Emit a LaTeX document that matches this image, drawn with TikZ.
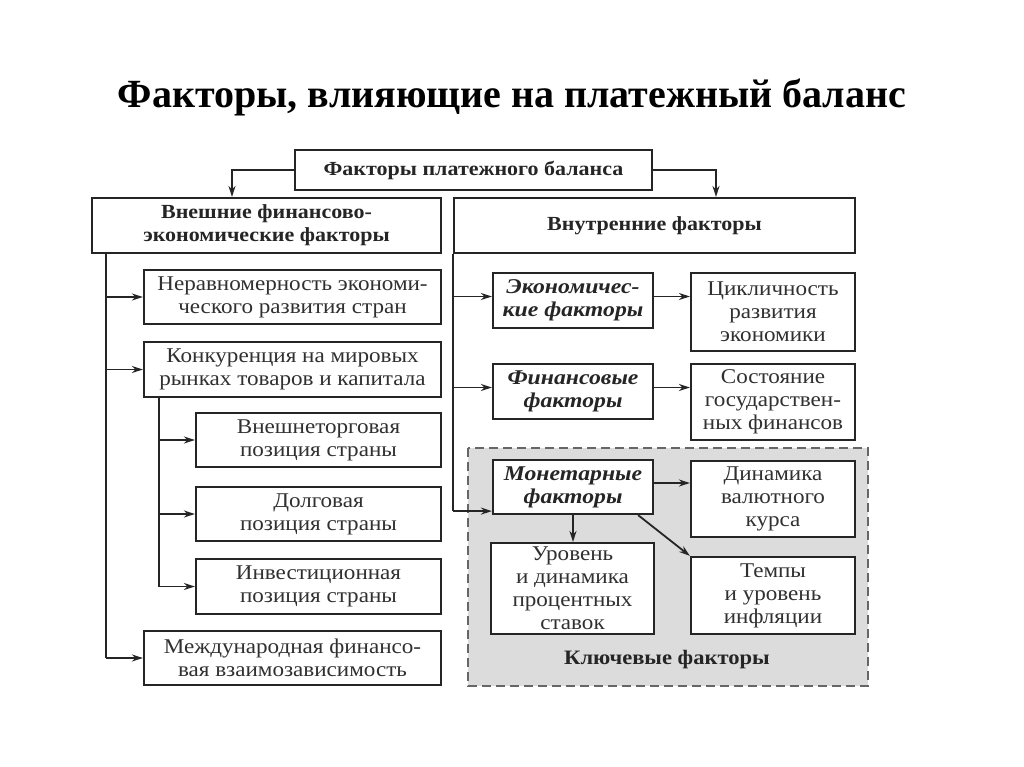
\documentclass[tikz,border=0pt]{standalone}
\usepackage{fontspec}
\setmainfont{Liberation Serif}
\newfontfamily\regfont{Liberation Serif}[FakeStretch=1.10]
\newfontfamily\headfont{Liberation Serif}[FakeStretch=1.10]
\newfontfamily\itfont{Liberation Serif}[FakeStretch=1.13]
\usetikzlibrary{arrows.meta,calc}
\definecolor{ink}{HTML}{252525}
\definecolor{txt}{HTML}{303030}
\definecolor{keyfill}{HTML}{DCDCDC}
\definecolor{dashc}{HTML}{666666}
\tikzset{
  box/.style={draw=ink, line width=2.2pt, fill=white, align=center, inner sep=0pt, text=txt,
     font=\regfont\fontsize{21}{23}\selectfont},
  headbox/.style={box, text=ink, font=\headfont\fontsize{20}{23}\selectfont\bfseries},
  itbox/.style={box, text=ink, font=\itfont\fontsize{21}{23}\selectfont\bfseries\itshape},
  conn/.style={draw=ink, line width=1.8pt},
  arr/.style={conn, -{Stealth[length=11pt,width=7pt]}},
}
\begin{document}
\begin{tikzpicture}[x=1pt,y=-1pt]
\useasboundingbox (0,0) rectangle (1024,767);
\fill[white] (0,0) rectangle (1024,767);

\node[font=\fontsize{40}{44}\selectfont\bfseries, text=black] (title) at (512,97) {Факторы, влияющие на платежный баланс};

% key region
\draw[fill=keyfill, draw=dashc, line width=2pt, dash pattern=on 9pt off 5pt] (468,448) rectangle (868,686);
\node[font=\headfont\fontsize{20.5}{23}\selectfont\bfseries, text=ink] (keylab) at (667,660) {Ключевые факторы};

% top
\node[headbox, minimum width=357pt, minimum height=40pt] (top) at (473.5,170) {Факторы платежного баланса};
\node[headbox, minimum width=349pt, minimum height=55pt] (ext) at (266.5,225.5) {Внешние финансово-\\экономические факторы};
\node[headbox, minimum width=401pt, minimum height=55pt] (int) at (654.5,225.5) {Внутренние факторы};

% left column
\node[box, minimum width=297pt, minimum height=54pt] (b1) at (292.5,297) {Неравномерность экономи-\\ческого развития стран};
\node[box, minimum width=297pt, minimum height=55pt] (b2) at (292.5,369.5) {Конкуренция на мировых\\рынках товаров и капитала};
\node[box, minimum width=245pt, minimum height=54pt] (b3) at (318.5,440) {Внешнеторговая\\позиция страны};
\node[box, minimum width=245pt, minimum height=54pt] (b4) at (318.5,514) {Долговая\\позиция страны};
\node[box, minimum width=245pt, minimum height=55pt] (b5) at (318.5,586.5) {Инвестиционная\\позиция страны};
\node[box, minimum width=297pt, minimum height=54pt] (b6) at (292.5,658) {Международная финансо-\\вая взаимозависимость};

% right column
\node[itbox, minimum width=160pt, minimum height=55pt] (econ) at (573,300.5) {Экономичес-\\кие факторы};
\node[box, minimum width=164pt, minimum height=78pt] (cycl) at (773,312) {Цикличность\\развития\\экономики};
\node[itbox, minimum width=160pt, minimum height=55pt] (fin) at (573,391.5) {Финансовые\\факторы};
\node[box, minimum width=164pt, minimum height=76pt] (state) at (773,402) {Состояние\\государствен-\\ных финансов};
\node[itbox, minimum width=160pt, minimum height=54pt] (mon) at (573,487) {Монетарные\\факторы};
\node[box, minimum width=164pt, minimum height=76pt] (dyn) at (773,499) {Динамика\\валютного\\курса};
\node[box, minimum width=163pt, minimum height=91pt] (rate) at (572.5,588.5) {Уровень\\и динамика\\процентных\\ставок};
\node[box, minimum width=164pt, minimum height=77pt] (infl) at (773,595.5) {Темпы\\и уровень\\инфляции};

% top arrows
\draw[arr] (top.west) -| ($(ext.north)+(-34.5,0)$);
\draw[arr] (top.east) -| ($(int.north)+(61.5,0)$);

% left trunk
\coordinate (lt) at (106,0);
\draw[conn] (ext.south -| lt) -- (b6.west -| lt);
\draw[arr] (b1.west -| lt) -- (b1.west);
\draw[arr] (b2.west -| lt) -- (b2.west);
\draw[arr] (b6.west -| lt) -- (b6.west);

% sub trunk
\coordinate (st) at (159,0);
\draw[conn] (b2.south -| st) -- (b5.west -| st);
\draw[arr] (b3.west -| st) -- (b3.west);
\draw[arr] (b4.west -| st) -- (b4.west);
\draw[arr] (b5.west -| st) -- (b5.west);

% right trunk
\coordinate (monin) at ($(mon.south west)+(0,-4)$);
\draw[conn] (int.south west) -- (int.south west |- monin);
\coordinate (e0) at ($(econ.west)+(0,-4)$);
\coordinate (f0) at ($(fin.west)+(0,-4)$);
\draw[arr] (e0 -| int.south west) -- (e0);
\draw[arr] (f0 -| int.south west) -- (f0);
\draw[arr] (monin -| int.south west) -- (monin);

% horizontal to right boxes
\coordinate (e1) at ($(econ.east)+(0,-4)$);
\draw[arr] (e1) -- (e1 -| cycl.west);
\coordinate (f1) at ($(fin.east)+(0,-4)$);
\draw[arr] (f1) -- (f1 -| state.west);
\coordinate (m1) at ($(mon.east)+(0,-4)$);
\draw[arr] (m1) -- (m1 -| dyn.west);
\draw[arr] (mon.south) -- (mon.south |- rate.north);
\draw[arr] ($(mon.south east)+(-16,0)$) -- (infl.north west);
\end{tikzpicture}
\end{document}
